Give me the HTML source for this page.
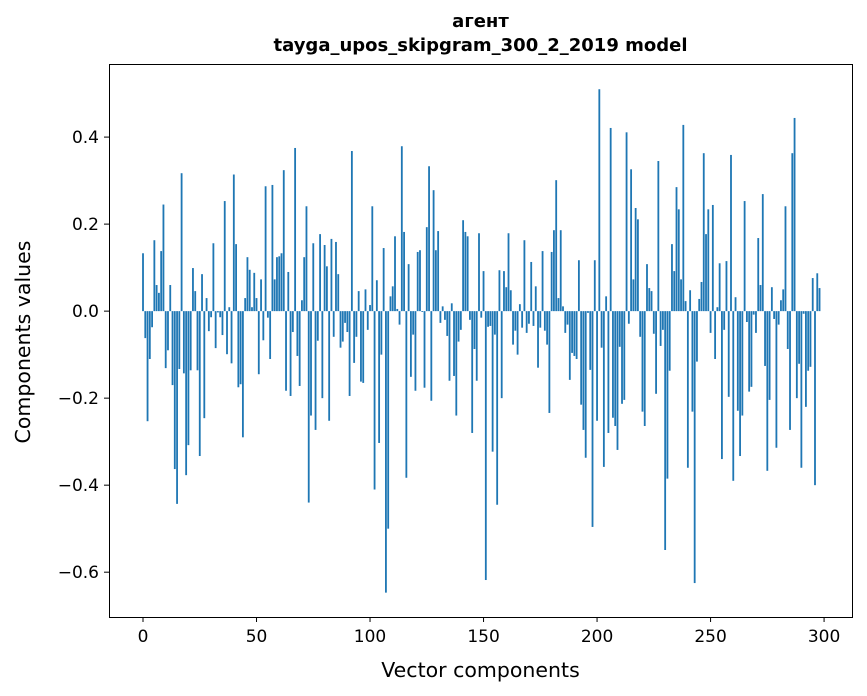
<!DOCTYPE html>
<html><head><meta charset="utf-8"><style>
html,body{margin:0;padding:0;background:#fff;}
svg{display:block;font-family:"DejaVu Sans","Liberation Sans",sans-serif;}
</style></head><body>
<svg id="chart" width="867" height="696" viewBox="0 0 867 696" xmlns="http://www.w3.org/2000/svg">
<rect x="0" y="0" width="867" height="696" fill="#fff"/>
<text x="480.5" y="27" text-anchor="middle" font-size="18" font-weight="bold">агент</text>
<text x="480.5" y="51" text-anchor="middle" font-size="18" font-weight="bold">tayga_upos_skipgram_300_2_2019 model</text>
<g id="bars"></g>
<g id="yticks"></g>
<g id="xticks"></g>
<rect x="109.5" y="64.5" width="743" height="553" fill="none" stroke="#000" stroke-width="1"/>
<text x="480.5" y="677" text-anchor="middle" font-size="20.5">Vector components</text>
<text x="0" y="0" transform="translate(30,342) rotate(-90)" text-anchor="middle" font-size="20.5">Components values</text>
</svg>
<script>
const values = [0.133,-0.062,-0.253,-0.11,-0.037,0.163,0.06,0.042,0.138,0.245,-0.131,-0.09,0.06,-0.17,-0.363,-0.443,-0.133,0.317,-0.143,-0.377,-0.308,-0.136,0.099,0.046,-0.136,-0.333,0.085,-0.246,0.03,-0.046,-0.014,0.156,-0.085,-0.003,-0.014,-0.055,0.253,-0.099,0.009,-0.12,0.314,0.154,-0.175,-0.168,-0.29,0.03,0.124,0.095,0.009,0.088,0.03,
-0.145,0.073,-0.067,0.287,-0.015,-0.11,0.29,0.073,0.124,0.126,0.133,0.324,-0.183,0.09,-0.195,-0.048,0.375,-0.103,-0.172,0.025,0.124,0.241,-0.44,-0.24,0.156,-0.273,-0.068,0.177,-0.2,0.152,0.103,-0.252,0.166,-0.059,0.159,0.085,-0.084,-0.07,-0.027,-0.048,-0.195,0.368,-0.119,-0.059,0.046,-0.162,-0.165,0.05,-0.043,0.014,0.241,
-0.41,0.071,-0.303,-0.1,0.145,-0.647,-0.5,0.034,0.057,0.172,0.005,-0.031,0.379,0.182,-0.383,0.108,-0.151,-0.054,-0.183,0.136,0.14,-0.002,-0.176,0.193,0.333,-0.206,0.278,0.14,0.184,-0.027,0.011,-0.02,-0.057,-0.16,0.018,-0.149,-0.24,-0.07,-0.043,0.209,0.182,0.172,-0.02,-0.28,-0.087,-0.16,0.179,-0.015,0.092,
-0.618,-0.036,-0.034,-0.323,-0.054,-0.445,0.094,-0.2,0.092,0.055,0.179,0.048,-0.077,-0.045,-0.1,0.016,-0.038,0.163,-0.05,-0.029,0.113,-0.034,0.057,-0.13,-0.038,0.138,-0.045,-0.077,-0.234,0.136,0.186,0.301,0.03,0.186,0.011,-0.05,-0.031,-0.158,-0.096,-0.103,-0.11,0.117,-0.215,-0.273,-0.337,-0.004,-0.135,-0.496,0.117,-0.252,
0.51,-0.084,-0.358,0.034,-0.28,0.421,-0.245,-0.264,-0.319,-0.082,-0.213,-0.204,0.411,-0.029,0.326,0.073,0.237,0.211,-0.059,-0.231,-0.264,0.108,0.053,0.046,-0.052,-0.19,0.345,-0.08,-0.043,-0.549,-0.385,-0.137,0.154,0.092,0.285,0.234,0.073,0.428,0.023,-0.36,0.048,-0.231,-0.625,-0.116,0.028,0.067,0.363,0.177,0.234,-0.05,0.244,
-0.11,0.009,0.11,-0.34,-0.043,0.115,-0.197,0.359,-0.39,0.032,-0.229,-0.333,-0.24,0.253,-0.025,-0.185,-0.174,-0.008,-0.05,0.168,0.06,0.269,-0.126,-0.367,-0.204,0.055,-0.018,-0.314,-0.031,0.025,0.05,0.241,-0.087,-0.273,0.363,0.444,-0.2,-0.121,-0.36,-0.006,-0.22,-0.137,-0.128,0.076,-0.4,0.087,0.053];
const yTickValues = [-0.6,-0.4,-0.2,0.0,0.2,0.4];
const yTickLabels = ["\u22120.6","\u22120.4","\u22120.2","0.0","0.2","0.4"];
const xTickValues = [0,50,100,150,200,250,300];
const xTickLabels = ["0","50","100","150","200","250","300"];

const PL=109, PR=852, PT=64, PB=617;
const xMin=-14.98, xMax=312.3, yMin=-0.703, yMax=0.568;
function xs(v){return PL+(v-xMin)/(xMax-xMin)*(PR-PL);}
function ys(v){return PB-(v-yMin)/(yMax-yMin)*(PB-PT);}
const NS="http://www.w3.org/2000/svg";
const bars=document.getElementById('bars');
values.forEach((v,i)=>{
  const r=document.createElementNS(NS,'rect');
  
  
  const x0=xs(i-0.4), x1=xs(i+0.4);
  const y0=ys(Math.max(v,0)), y1=ys(Math.min(v,0));
  r.setAttribute('x',x0); r.setAttribute('width',x1-x0);
  r.setAttribute('y',y0); r.setAttribute('height',Math.max(y1-y0,0.3));
  r.setAttribute('fill','#1f77b4');
  bars.appendChild(r);
});
const yt=document.getElementById('yticks');
yTickValues.forEach((v,i)=>{
  const y=ys(v);
  const l=document.createElementNS(NS,'line');
  
  
  l.setAttribute('x1',PL-5);l.setAttribute('x2',PL);l.setAttribute('y1',y);l.setAttribute('y2',y);
  l.setAttribute('stroke','#000');
  yt.appendChild(l);
  const t=document.createElementNS(NS,'text');
  
  
  t.setAttribute('x',PL-10);t.setAttribute('y',y+6);
  t.setAttribute('text-anchor','end');t.setAttribute('font-size','17');
  t.textContent=yTickLabels[i];
  yt.appendChild(t);
});
const xt=document.getElementById('xticks');
xTickValues.forEach((v,i)=>{
  const x=xs(v);
  const l=document.createElementNS(NS,'line');
  
  
  l.setAttribute('x1',x);l.setAttribute('x2',x);l.setAttribute('y1',PB);l.setAttribute('y2',PB+5);
  l.setAttribute('stroke','#000');
  xt.appendChild(l);
  const t=document.createElementNS(NS,'text');
  
  
  t.setAttribute('x',x);t.setAttribute('y',PB+25);
  t.setAttribute('text-anchor','middle');t.setAttribute('font-size','17');
  t.textContent=xTickLabels[i];
  xt.appendChild(t);
});
</script>
</body></html>
